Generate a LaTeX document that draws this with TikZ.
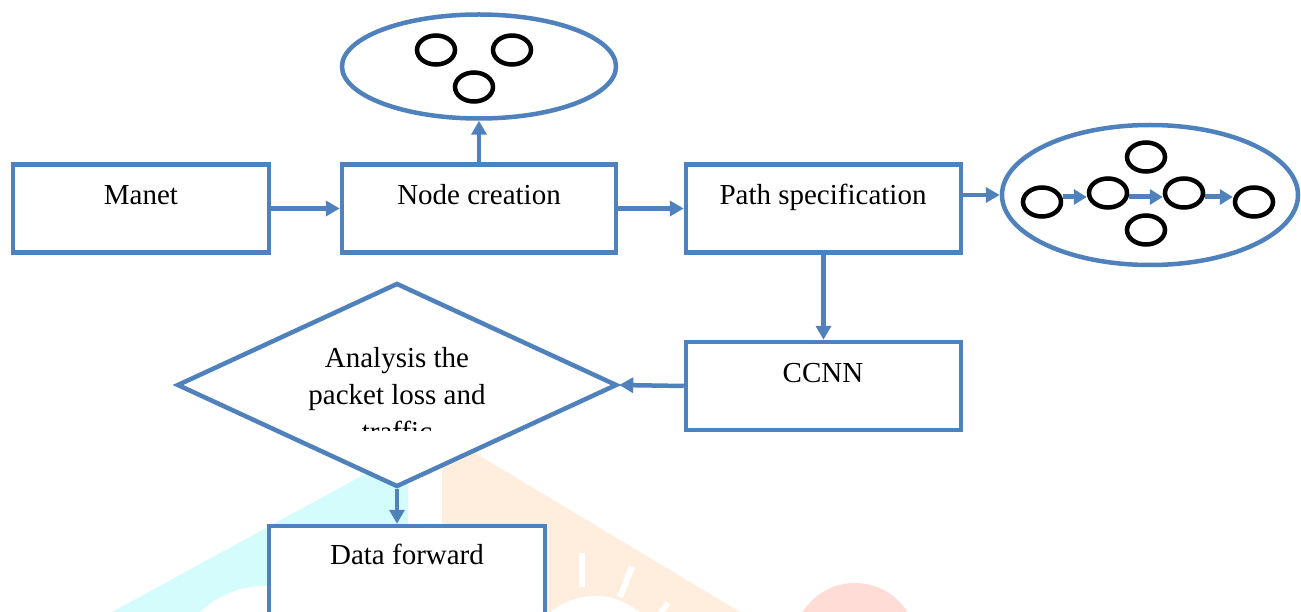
\documentclass[tikz,border=0pt]{standalone}
\usepackage{fontspec}
\setmainfont{Liberation Serif}
\usetikzlibrary{shapes.geometric,arrows.meta}
\definecolor{myblue}{HTML}{4F81BD}
\definecolor{wmcyan}{HTML}{D4FCFC}
\definecolor{wmorange}{HTML}{FFEEDD}
\definecolor{wmred}{HTML}{FFDCD6}
\begin{document}
\begin{tikzpicture}[x=1pt,y=-1pt,
  flowbox/.style={draw=myblue,line width=4.5pt,fill=white,rectangle,inner sep=0pt},
  blob/.style={draw=myblue,line width=4.5pt,fill=white,ellipse,inner sep=0pt},
  decide/.style={draw=myblue,line width=4.5pt,fill=white,diamond,inner sep=0pt},
  dot/.style={draw=black,line width=4.5pt,ellipse,minimum width=38pt,minimum height=29pt,inner sep=0pt},
  conn/.style={draw=myblue,line width=4.5pt,-{Triangle[length=14pt,width=15pt]}},
  innerconn/.style={draw=myblue,line width=5pt,-{Triangle[length=13pt,width=15pt]}},
  lbl/.style={anchor=base,font=\fontsize{29}{37}\selectfont,inner sep=0pt}]
\useasboundingbox (0,0) rectangle (1301,612);
\clip (0,0) rectangle (1301,612);
\fill[white] (0,0) rectangle (1301,612);
% watermark
\fill[wmcyan] (112,612) -- (400,455) -- (408,462) -- (408,612) -- cycle;
\fill[white] (265,680) circle[radius=94];
\fill[wmorange] (442,444) -- (460,444) -- (740,612) -- (442,612) -- cycle;
\fill[white] (595,665) circle[radius=69];
\draw[white,line width=6pt] (582,553) -- (582,587);
\draw[white,line width=6pt] (632,567) -- (620,597);
\draw[white,line width=6pt] (668,603) -- (660,614);
\fill[wmred] (855,645) circle[radius=62];
% nodes
\node[flowbox,minimum width=256pt,minimum height=88pt] (manet) at (141,208.5) {};
\node[flowbox,minimum width=274pt,minimum height=88pt] (nc) at (479,208.5) {};
\node[flowbox,minimum width=275pt,minimum height=88pt] (ps) at (823.5,208.5) {};
\node[flowbox,minimum width=275pt,minimum height=88pt] (ccnn) at (823.5,386) {};
\node[flowbox,minimum width=276pt,minimum height=100pt] (df) at (407,576) {};
\node[decide,minimum width=440pt,minimum height=204pt] (dia) at (397,385) {};
\node[blob,minimum width=274pt,minimum height=104pt] (te) at (479,66.5) {};
\node[blob,minimum width=296pt,minimum height=140pt] (re) at (1150,195) {};
% labels
\node[lbl] (tmanet) at (141,205) {Manet};
\node[lbl] (tnc) at (479,205) {Node creation};
\node[lbl] (tps) at (823,205) {Path specification};
\node[lbl] (tccnn) at (823,382) {CCNN};
\node[lbl] (tdf) at (407,564) {Data forward};
\node[lbl] (ta1) at (397,367) {Analysis the};
\node[lbl] (ta2) at (397,404) {packet loss and};
\begin{scope}
\clip (300,410) rectangle (500,430);
\node[lbl] (ta3) at (397,441) {traffic};
\end{scope}
% circles in top ellipse
\node[dot] (t1) at (436,50) {};
\node[dot] (t2) at (512,50) {};
\node[dot] (t3) at (474,87) {};
% circles in right ellipse
\node[dot] (c1) at (1042,202) {};
\node[dot] (c2) at (1108,193) {};
\node[dot] (c3) at (1184,193) {};
\node[dot] (c4) at (1254,202) {};
\node[dot] (c5) at (1146,157) {};
\node[dot] (c6) at (1146,230) {};
\coordinate (ay) at (0,197);
\draw[innerconn] (c1.east |- ay) -- (c2.west |- ay);
\draw[innerconn] (c2.east |- ay) -- (c3.west |- ay);
\draw[innerconn] (c3.east |- ay) -- (c4.west |- ay);
% connectors
\draw[conn] (manet.east) -- (nc.west);
\draw[conn] (nc.east) -- (ps.west);
\draw[conn] (nc.north) -- (te.south);
\draw[conn] (ps.east |- re.west) -- (re.west);
\draw[conn] (ps.south) -- (ccnn.north);
\draw[conn] (ccnn.west) -- (dia.east);
\draw[conn] (dia.south) -- (dia.south |- df.north);
\end{tikzpicture}
\end{document}
